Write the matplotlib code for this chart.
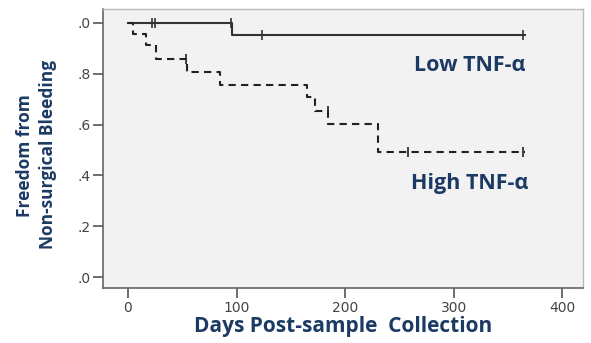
import matplotlib
matplotlib.use("Agg")
import matplotlib.pyplot as plt

# Low TNF-alpha group (Kaplan-Meier step data)
low_times = [0, 96, 366]
low_surv = [1.0, 0.953, 0.953]
low_cens_t = [22, 25, 95, 123, 364]
low_cens_s = [1.0, 1.0, 1.0, 0.953, 0.953]

# High TNF-alpha group
high_times = [0, 5, 17, 26, 54, 85, 165, 172, 184, 230, 366]
high_surv = [1.0, 0.957, 0.912, 0.857, 0.808, 0.756, 0.71, 0.655, 0.602, 0.493, 0.493]
high_cens_t = [53, 184, 258, 364]
high_cens_s = [0.857, 0.655, 0.493, 0.493]

xticks = [0, 100, 200, 300, 400]
yticks = [0.0, 0.2, 0.4, 0.6, 0.8, 1.0]
ytick_labels = [".0", ".2", ".4", ".6", ".8", ".0"]

navy = "#1b3a64"
fig = plt.figure(figsize=(5.91, 3.43), dpi=100)
ax = fig.add_axes([0.1743, 0.1603, 0.8122, 0.8135])
ax.set_facecolor("#f2f2f2")

ax.step(low_times, low_surv, where="post", color="#333333", lw=1.5)
ax.plot(low_cens_t, low_cens_s, ls="none", marker="|", ms=7, mew=1.2, color="#333333")
ax.step(high_times, high_surv, where="post", color="#222222", lw=1.5, ls=(0, (3.5, 2.5)))
ax.plot(high_cens_t, high_cens_s, ls="none", marker="|", ms=7, mew=1.2, color="#222222")

ax.set_xlim(-23, 419)
ax.set_ylim(-0.0433, 1.055)
ax.set_xticks(xticks)
ax.set_xticklabels([str(t) for t in xticks], fontsize=10, color="#444444")
ax.set_yticks(yticks)
ax.set_yticklabels(ytick_labels, fontsize=10, color="#444444")
ax.tick_params(axis="both", length=7, width=1.2, color="#555555", pad=2)

for s in ["left", "bottom"]:
    ax.spines[s].set_color("#666666")
    ax.spines[s].set_linewidth(1.2)
for s in ["top", "right"]:
    ax.spines[s].set_color("#bbbbbb")
    ax.spines[s].set_linewidth(1.0)

fig.text(0.794, 0.81, "Low TNF-α", ha="center", va="center", fontsize=15.5,
         fontweight="bold", color=navy, family="Open Sans")
fig.text(0.794, 0.466, "High TNF-α", ha="center", va="center", fontsize=15.5,
         fontweight="bold", color=navy, family="Open Sans")

fig.text(0.581, 0.047, "Days Post-sample  Collection", ha="center", va="center",
         fontsize=15, fontweight="bold", color=navy, family="Open Sans")
fig.text(25 / 591, 1 - 156 / 343, "Freedom from", rotation=90, ha="center", va="center",
         fontsize=12.5, fontweight="bold", color=navy, family="Open Sans")
fig.text(48 / 591, 1 - 154 / 343, "Non-surgical Bleeding", rotation=90, ha="center", va="center",
         fontsize=12.5, fontweight="bold", color=navy, family="Open Sans")

fig.savefig("out.png", dpi=100)
